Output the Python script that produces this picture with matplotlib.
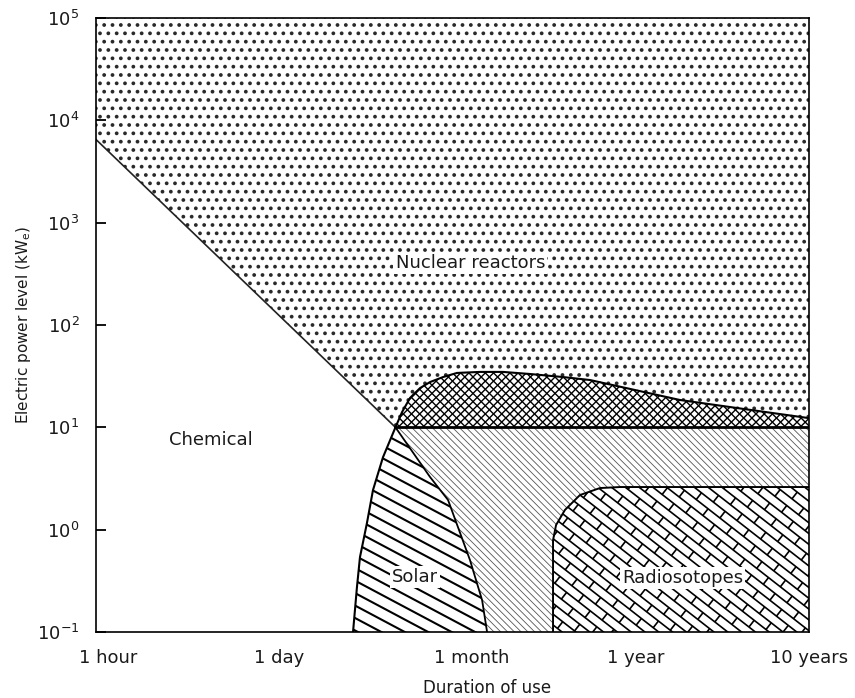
import numpy as np
import matplotlib.pyplot as plt
from matplotlib.patches import Polygon
from matplotlib.collections import LineCollection
from matplotlib.ticker import NullLocator

plt.rcParams['font.family'] = 'DejaVu Sans'
plt.rcParams['mathtext.default'] = 'regular'
plt.rcParams['hatch.linewidth'] = 1.5

# duration axis (labels are evenly spaced in the original)
dur_pos = [0.07, 1.03, 2.11, 3.03, 4.0]
dur_labels = ['1 hour', '1 day', '1 month', '1 year', '10 years']
power_ticks = [0.1, 1, 10, 100, 1e3, 1e4, 1e5]
power_labels = ['$10^{-1}$', '$10^{0}$', '$10^{1}$', '$10^{2}$',
                '$10^{3}$', '$10^{4}$', '$10^{5}$']

# chemical / nuclear boundary
chem_x = [0.0, 1.68]
chem_y = [6500, 10]

# solar: left edge and right edge, both from top to bottom
solar_left_x = [1.68, 1.61, 1.554, 1.52, 1.481, 1.464, 1.442]
solar_left_y = [10, 5.1, 2.44, 1.16, 0.54, 0.275, 0.1]
solar_right_x = [1.68, 1.874, 1.975, 2.098, 2.166, 2.194]
solar_right_y = [10, 3.27, 1.95, 0.505, 0.205, 0.1]

# radioisotopes edge, from bottom left to right
radio_x = [2.564, 2.564, 2.581, 2.631, 2.715, 2.827, 2.94, 4.0]
radio_y = [0.1, 0.79, 1.11, 1.56, 2.18, 2.55, 2.61, 2.61]

# upper edge of the cross hatched band (lower edge is 10 kW)
cross_x = [1.68, 1.717, 1.762, 1.818, 1.874, 1.947, 2.025, 2.154,
           2.283, 2.435, 2.62, 2.771, 3.276, 4.0]
cross_y = [10, 14.1, 19.4, 24.2, 27.7, 31.0, 34.0, 34.8,
           34.8, 33.2, 31.0, 29.0, 18.5, 12.3]

labels = ['Nuclear reactors', 'Chemical', 'Solar', 'Radiosotopes']
label_x = [2.10, 0.645, 1.79, 3.29]
label_y = [404, 7.5, 0.344, 0.337]

AX_W, AX_H = 713.0, 614.0  # axes size in pixels


def hatch_lines(ax, clip, angle, gap, lw, color='black', brick=None):
    # parallel lines (optionally with brick joints) clipped to a patch
    t = np.radians(angle)
    d = np.array([np.cos(t), np.sin(t)])
    n = np.array([-np.sin(t), np.cos(t)])
    half = np.hypot(AX_W, AX_H) / 2 + 10
    ctr = np.array([AX_W / 2, AX_H / 2])
    segs = []
    for k, off in enumerate(np.arange(-half, half, gap)):
        c = ctr + n * off
        segs.append([c - d * half, c + d * half])
        if brick:
            for s in np.arange(-half + (k % 2) * brick / 2, half, brick):
                p = c + d * s
                segs.append([p, p + n * gap])
    segs = np.array(segs) / [AX_W, AX_H]
    lc = LineCollection(segs, colors=color, linewidths=lw,
                        transform=ax.transAxes, zorder=clip.get_zorder() + 0.1)
    lc.set_clip_path(clip)
    ax.add_collection(lc, autolim=False)


fig = plt.figure(figsize=(8.55, 6.98), dpi=100)
ax = fig.add_axes([96 / 855, 1 - 632 / 698, 713 / 855, 614 / 698])
ax.set_yscale('log')
ax.set_xlim(0, 4)
ax.set_ylim(0.1, 1e5)

# nuclear reactors: stippled background
nuc = Polygon([(0, 0.1), (4, 0.1), (4, 1e5), (0, 1e5)], closed=True,
              facecolor='white', edgecolor='#2a2a2a', linewidth=0,
              hatch='..', zorder=1)
ax.add_patch(nuc)

# chemical: blank region
chem_pts = [(0, 0.1)] + list(zip(chem_x, chem_y)) + list(zip(solar_left_x, solar_left_y))
ax.add_patch(Polygon(chem_pts, closed=True, facecolor='white', edgecolor='none', zorder=2))

# solar
solar_pts = list(zip(solar_left_x, solar_left_y)) + list(zip(solar_right_x, solar_right_y))[::-1]
solar = Polygon(solar_pts, closed=True, facecolor='white', edgecolor='none', zorder=3)
ax.add_patch(solar)
hatch_lines(ax, solar, -28, 11, 1.5)

# unlabelled fine hatched band
mid_pts = [(1.68, 10), (4, 10), (4, 0.1)] + list(zip(solar_right_x, solar_right_y))[::-1]
mid = Polygon(mid_pts, closed=True, facecolor='white', edgecolor='none', zorder=3)
ax.add_patch(mid)
hatch_lines(ax, mid, -45, 4.8, 0.6, color='#555555')

# radioisotopes
radio_pts = list(zip(radio_x, radio_y)) + [(4, 0.1)]
radio = Polygon(radio_pts, closed=True, facecolor='white', edgecolor='none', zorder=4)
ax.add_patch(radio)
hatch_lines(ax, radio, -38, 8.5, 1.2, brick=30)

# cross hatched band above 10 kW
cross_pts = list(zip(cross_x, cross_y)) + [(4, 10)]
cross = Polygon(cross_pts, closed=True, facecolor='white', edgecolor='none', zorder=4)
ax.add_patch(cross)
hatch_lines(ax, cross, 45, 5.8, 1.0)
hatch_lines(ax, cross, -45, 5.8, 1.0)

# outlines
ax.plot(chem_x, chem_y, color='#222222', lw=1.2, zorder=5)
ax.plot(solar_left_x, solar_left_y, color='black', lw=1.5, zorder=5)
ax.plot(solar_right_x, solar_right_y, color='black', lw=1.3, zorder=5)
ax.plot(radio_x, radio_y, color='black', lw=1.4, zorder=5)
ax.plot(cross_x, cross_y, color='black', lw=1.5, zorder=5)
ax.plot([1.68, 4], [10, 10], color='black', lw=2.0, zorder=5)

for i, s in enumerate(labels):
    box = None if s == 'Chemical' else dict(facecolor='white', edgecolor='none', pad=1.5)
    ax.text(label_x[i], label_y[i], s, ha='center', va='center', fontsize=13,
            color='#1a1a1a', bbox=box, zorder=6)

ax.set_xticks(dur_pos, dur_labels)
ax.set_yticks(power_ticks, power_labels)
ax.yaxis.set_minor_locator(NullLocator())
ax.tick_params(axis='x', length=0, pad=12, labelsize=13, labelcolor='#1a1a1a')
ax.tick_params(axis='y', direction='in', length=7, width=1.3, color='black',
               pad=12, labelsize=13, labelcolor='#1a1a1a')
ax.xaxis.set_zorder(8)
ax.yaxis.set_zorder(8)
for sp in ax.spines.values():
    sp.set_linewidth(1.2)
    sp.set_zorder(7)

ax.set_xlabel('Duration of use', fontsize=12, color='#1a1a1a')
ax.xaxis.set_label_coords(0.548, -0.077)
ax.set_ylabel('Electric power level (kW$_e$)', fontsize=11, color='#1a1a1a')
ax.yaxis.set_label_coords(-0.088, 0.5)

fig.savefig('out.png', dpi=100)
